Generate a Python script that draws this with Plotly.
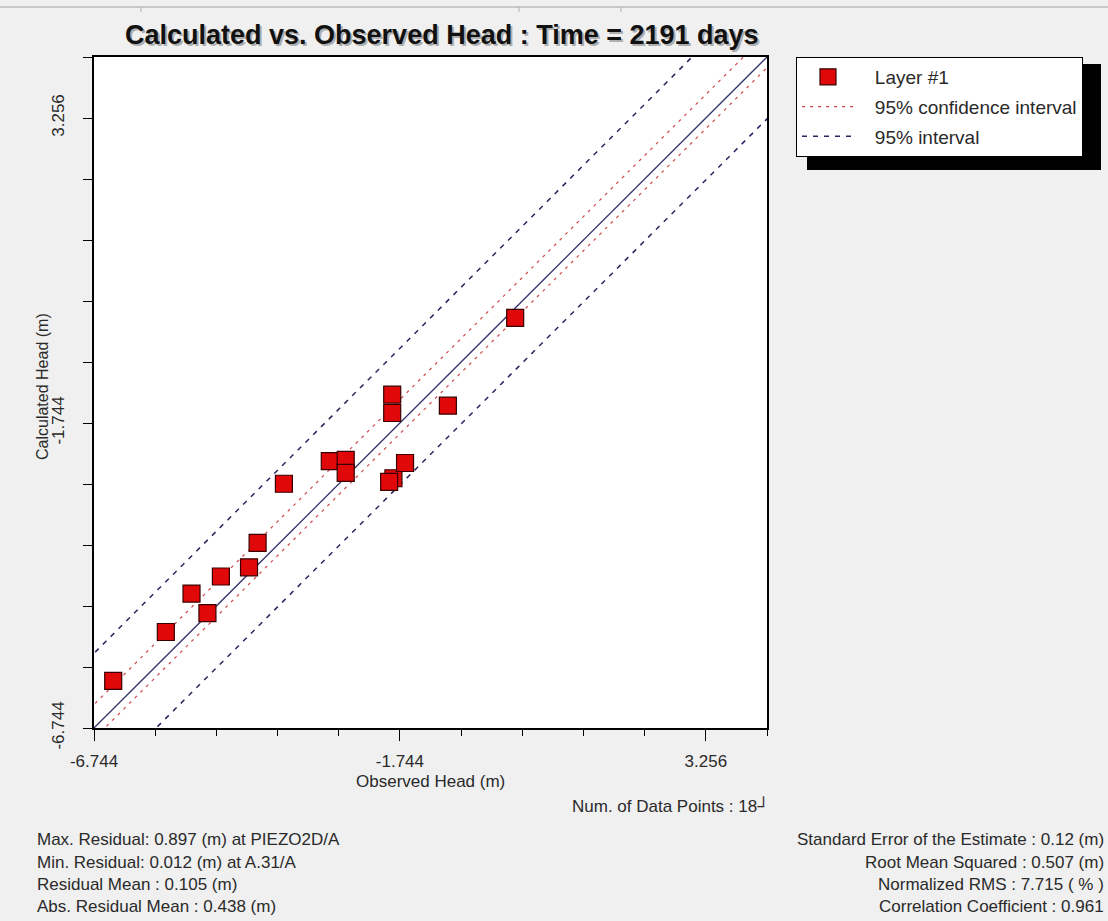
import numpy as np
import plotly.graph_objects as go

# Observed vs. calculated heads (m), layer #1, t = 2191 days
observed = [-6.43, -5.57, -5.15, -4.89, -4.67, -4.21, -4.07, -3.64, -2.89,
            -2.63, -2.63, -1.87, -1.87, -1.85, -1.92, -1.66, -0.96, 0.14]
calculated = [-5.97, -5.17, -4.54, -4.86, -4.26, -4.11, -3.71, -2.74, -2.37,
              -2.35, -2.56, -1.28, -1.58, -2.65, -2.71, -2.40, -1.46, -0.02]

# Axis layout (same for both axes)
axis_min, axis_max = -6.744, 4.256
major_ticks = [-6.744, -1.744, 3.256]
major_labels = ["-6.744", "-1.744", "3.256"]
minor_step = 1.0

# Residual statistics and interval half-widths
residual_mean = 0.105
conf_half_width = 0.28
pred_half_width = 1.12

left_stats = [
    "Max. Residual: 0.897 (m) at PIEZO2D/A",
    "Min. Residual: 0.012 (m) at A.31/A",
    "Residual Mean : 0.105 (m)",
    "Abs. Residual Mean : 0.438 (m)",
]
right_stats = [
    "Standard Error of the Estimate : 0.12 (m)",
    "Root Mean Squared : 0.507 (m)",
    "Normalized RMS : 7.715 ( % )",
    "Correlation Coefficient : 0.961",
]
n_points_label = "Num. of Data Points : 18\u2518"

W, H = 1108, 921
ML, MR, MT, MB = 94, 341, 57, 193
PW, PH = W - ML - MR, H - MT - MB


def px(x):
    return (x - ML) / PW


def py(y):
    return (H - MB - y) / PH


FONT = "Liberation Sans, Arial, sans-serif"
TXT = "#2a2a2a"
PAD = "\u00a0" * 3  # gap between legend symbol and its label

line_x = np.array([axis_min - 1, axis_max + 1])

fig = go.Figure()

# 1:1 line
fig.add_trace(go.Scatter(
    x=line_x, y=line_x, mode="lines", showlegend=False, hoverinfo="skip",
    line=dict(color="#34346e", width=1.3)))

for sign in (1, -1):
    fig.add_trace(go.Scatter(
        x=line_x, y=line_x + residual_mean + sign * conf_half_width,
        mode="lines", name=PAD + "95% confidence interval", legendgroup="b",
        legendrank=2, showlegend=(sign == 1), hoverinfo="skip",
        line=dict(color="#d04848", width=1.2, dash="3px,5px")))

for sign in (1, -1):
    fig.add_trace(go.Scatter(
        x=line_x, y=line_x + residual_mean + sign * pred_half_width,
        mode="lines", name=PAD + "95% interval", legendgroup="c",
        legendrank=3, showlegend=(sign == 1), hoverinfo="skip",
        line=dict(color="#262660", width=1.5, dash="5px,6px")))

fig.add_trace(go.Scatter(
    x=observed, y=calculated, mode="markers", name=PAD + "Layer #1",
    legendgroup="a", legendrank=1,
    marker=dict(symbol="square", size=17, color="#e00808",
                line=dict(color="#3a0000", width=1.2))))

minor_vals = list(np.arange(axis_min, axis_max + 1e-6, minor_step))

common_axis = dict(
    range=[axis_min, axis_max], showgrid=False, zeroline=False,
    showline=True, linecolor="black", linewidth=2, mirror=True,
    tickmode="array", tickvals=major_ticks, ticktext=major_labels,
    ticks="outside", tickcolor="black", tickwidth=1,
    tickfont=dict(family=FONT, size=17, color=TXT),
)

fig.update_xaxes(**common_axis, ticklen=11, ticklabelstandoff=6,
                 minor=dict(tickvals=minor_vals, ticks="outside", ticklen=6,
                            tickcolor="black", showgrid=False))
fig.update_yaxes(**common_axis, ticklen=9, tickangle=-90, ticklabelstandoff=12,
                 minor=dict(tickvals=minor_vals, ticks="outside", ticklen=9,
                            tickcolor="black", showgrid=False))

ann = []
title = "Calculated vs. Observed Head : Time = 2191 days"
for dx, dy, col in ((2, -2, "rgba(90,90,90,0.45)"), (0, 0, "#111111")):
    ann.append(dict(text="<b>%s</b>" % title, x=px(442), y=py(35),
                    xref="paper", yref="paper", showarrow=False,
                    xanchor="center", yanchor="middle", xshift=dx, yshift=dy,
                    font=dict(family=FONT, size=27, color=col)))

ann.append(dict(text="Observed Head (m)", x=0.5, y=py(781), xref="paper",
                yref="paper", showarrow=False, xanchor="center",
                yanchor="middle", font=dict(family=FONT, size=17, color=TXT)))
ann.append(dict(text="Calculated Head (m)", x=px(42), y=py(387), xref="paper",
                yref="paper", showarrow=False, textangle=-90, xanchor="center",
                yanchor="middle", font=dict(family=FONT, size=16, color=TXT)))
ann.append(dict(text=n_points_label, x=px(771), y=py(806), xref="paper",
                yref="paper", showarrow=False, xanchor="right",
                yanchor="middle", font=dict(family=FONT, size=17, color=TXT)))

rows_y = [840, 862, 884, 906]
for txt, yy in zip(left_stats, rows_y):
    ann.append(dict(text=txt, x=px(35), y=py(yy), xref="paper", yref="paper",
                    showarrow=False, xanchor="left", yanchor="middle",
                    font=dict(family=FONT, size=17, color=TXT)))
for txt, yy in zip(right_stats, rows_y):
    ann.append(dict(text=txt, x=px(1106), y=py(yy), xref="paper", yref="paper",
                    showarrow=False, xanchor="right", yanchor="middle",
                    font=dict(family=FONT, size=17, color=TXT)))

shapes = [
    # legend drop shadow
    dict(type="rect", xref="paper", yref="paper", x0=px(807), x1=px(1101),
         y0=py(170), y1=py(64), fillcolor="black", line=dict(width=0),
         layer="above"),
    # window edge strip at the very top
    dict(type="line", xref="paper", yref="paper", x0=px(0), x1=px(W),
         y0=py(7), y1=py(7), line=dict(color="#c9c9c9", width=2)),
]
for tx in (141, 519, 621):
    shapes.append(dict(type="line", xref="paper", yref="paper", x0=px(tx),
                       x1=px(tx), y0=py(7), y1=py(12),
                       line=dict(color="#b0b0b0", width=1)))

fig.update_layout(
    width=W, height=H,
    margin=dict(l=ML, r=MR, t=MT, b=MB, autoexpand=False),
    paper_bgcolor="#f0f0f0", plot_bgcolor="white",
    showlegend=True,
    legend=dict(x=px(796), y=py(57), xanchor="left", yanchor="top",
                bgcolor="white", bordercolor="black", borderwidth=1,
                font=dict(family=FONT, size=19, color=TXT),
                traceorder="grouped", tracegroupgap=2, itemwidth=52),
    annotations=ann, shapes=shapes,
)

fig.write_html("out.html")
